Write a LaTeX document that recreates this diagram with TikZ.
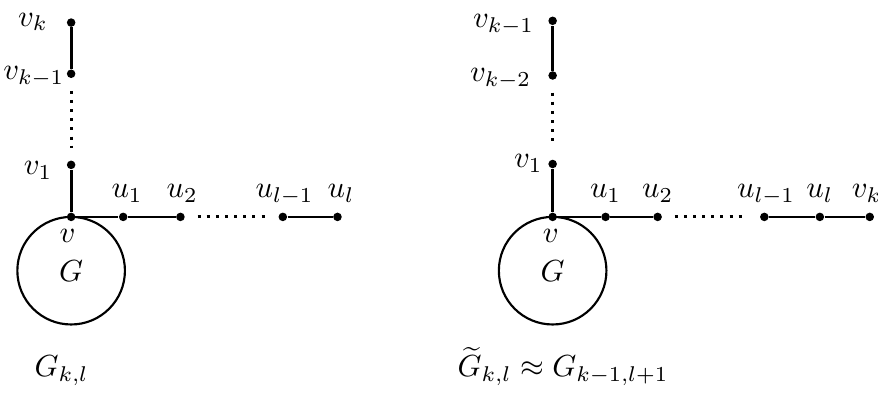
\documentclass[tikz,border=0pt]{standalone}
\usepackage{amsmath,amssymb}
\usepackage{tikz}
\usetikzlibrary{positioning}
\begin{document}
\begin{tikzpicture}[vtx/.style={circle,fill,inner sep=0pt,minimum size=2.8pt}, lbl/.style={anchor=base,inner sep=0pt}, edge/.style={line width=0.9pt}, gap/.style={line width=1pt,dotted,shorten <=4pt,shorten >=4pt}, graph/.style={draw,line width=0.7pt,circle,minimum size=1.24cm,inner sep=0pt}]
\useasboundingbox (-0.82,-2.02) rectangle (9.30,2.50);
\node[graph] (G) at (0,-0.62) {$G$};
\node[vtx] (v) at (0,0) {};
\node[vtx] (v1) at (0,0.60) {};
\node[vtx] (vkm) at (0,1.65) {};
\node[vtx] (vk) at (0,2.24) {};
\node[vtx] (u1) at (0.60,0) {};
\node[vtx] (u2) at (1.26,0) {};
\node[vtx] (ulm) at (2.44,0) {};
\node[vtx] (ul) at (3.07,0) {};
\node[lbl] (lvk) at (-0.44,2.20) {$v_k$};
\node[lbl] (lvkm) at (-0.43,1.58) {$v_{k-1}$};
\node[lbl] (lv1) at (-0.38,0.484) {$v_1$};
\node[lbl] (lv) at (-0.04,-0.30) {$v$};
\node[lbl] (lu1) at (0.645,0.22) {$u_1$};
\node[lbl] (lu2) at (1.28,0.22) {$u_2$};
\node[lbl] (lulm) at (2.46,0.22) {$u_{l-1}$};
\node[lbl] (lul) at (3.11,0.22) {$u_l$};
\node[lbl] (capG) at (-0.11,-1.845) {$G_{k,l}$};
\draw[edge] (v)--(v1);
\draw[edge] (vkm)--(vk);
\draw[edge] (v)--(u1)--(u2);
\draw[edge] (ulm)--(ul);
\draw[gap] (vkm)--(v1);
\draw[gap] (u2)--(ulm);
\begin{scope}[xshift=5.55cm]
\node[graph] (H) at (0,-0.62) {$G$};
\node[vtx] (w) at (0,0) {};
\node[vtx] (w1) at (0,0.61) {};
\node[vtx] (wkk) at (0,1.63) {};
\node[vtx] (wkm) at (0,2.26) {};
\node[vtx] (x1) at (0.61,0) {};
\node[vtx] (x2) at (1.21,0) {};
\node[vtx] (xlm) at (2.44,0) {};
\node[vtx] (xl) at (3.08,0) {};
\node[vtx] (wk) at (3.655,0) {};
\node[lbl] (lwkm) at (-0.565,2.18) {$v_{k-1}$};
\node[lbl] (lwkk) at (-0.60,1.56) {$v_{k-2}$};
\node[lbl] (lw1) at (-0.28,0.565) {$v_1$};
\node[lbl] (lw) at (-0.02,-0.30) {$v$};
\node[lbl] (lx1) at (0.61,0.22) {$u_1$};
\node[lbl] (lx2) at (1.21,0.22) {$u_2$};
\node[lbl] (lxlm) at (2.46,0.22) {$u_{l-1}$};
\node[lbl] (lxl) at (3.08,0.22) {$u_l$};
\node[lbl] (lwk) at (3.62,0.22) {$v_k$};
\node[lbl] (capH) at (0.12,-1.845) {$\widetilde{G}_{k,l}\approx G_{k-1,l+1}$};
\draw[edge] (w)--(w1);
\draw[edge] (wkk)--(wkm);
\draw[edge] (w)--(x1)--(x2);
\draw[edge] (xlm)--(xl)--(wk);
\draw[gap] (wkk)--(w1);
\draw[gap] (x2)--(xlm);
\end{scope}
\end{tikzpicture}
\end{document}
